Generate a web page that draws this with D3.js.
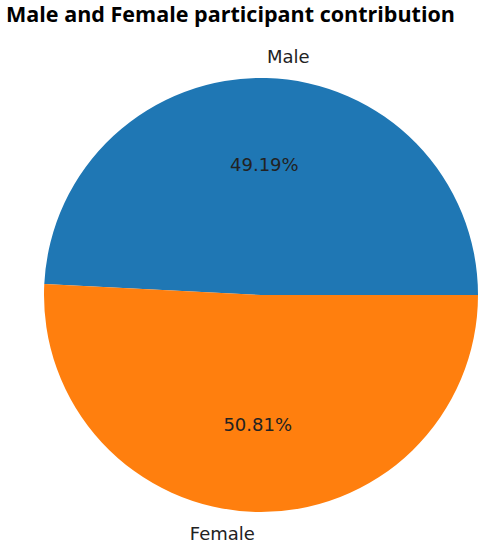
<!DOCTYPE html>
<html>
<head>
<meta charset="utf-8">
<script src="https://cdn.jsdelivr.net/npm/d3@7"></script>
<style>
  body { margin: 0; background: #fff; }
  svg { display: block; }
</style>
</head>
<body>
<svg></svg>
<script>
var labels = ['Male', 'Female'];
var values = [49.19, 50.81];
var colors = ['#1f77b4', '#ff7f0e'];

var width = 489, height = 550;
var cx = 261, cy = 295, r = 217;

var svg = d3.select('svg')
  .attr('width', width)
  .attr('height', height);

svg.append('text')
  .attr('x', 6)
  .attr('y', 22)
  .attr('font-family', 'Open Sans, sans-serif')
  .attr('font-weight', 'bold')
  .attr('font-size', 21)
  .attr('textLength', 449)
  .attr('lengthAdjust', 'spacingAndGlyphs')
  .attr('fill', '#000')
  .text('Male and Female participant contribution');

// matplotlib style: start at 3 o'clock, go counter-clockwise
var pie = d3.pie()
  .sort(null)
  .startAngle(Math.PI / 2)
  .endAngle(Math.PI / 2 - 2 * Math.PI);

var arcs = pie(values);
var arc = d3.arc().innerRadius(0).outerRadius(r);

var g = svg.append('g').attr('transform', 'translate(' + cx + ',' + cy + ')');

g.selectAll('path')
  .data(arcs)
  .enter().append('path')
  .attr('d', arc)
  .attr('fill', function(d, i) { return colors[i]; });

function midPos(d, k) {
  var a = (d.startAngle + d.endAngle) / 2;
  return [Math.sin(a) * r * k, -Math.cos(a) * r * k];
}

g.selectAll('text.lbl')
  .data(arcs)
  .enter().append('text')
  .attr('class', 'lbl')
  .attr('x', function(d) { return midPos(d, 1.1)[0]; })
  .attr('y', function(d) { return midPos(d, 1.1)[1]; })
  .attr('dy', '0.35em')
  .attr('text-anchor', function(d) { return midPos(d, 1.1)[0] >= 0 ? 'start' : 'end'; })
  .attr('font-family', 'DejaVu Sans, sans-serif')
  .attr('font-size', 18)
  .attr('fill', '#222')
  .text(function(d, i) { return labels[i]; });

g.selectAll('text.pct')
  .data(arcs)
  .enter().append('text')
  .attr('class', 'pct')
  .attr('x', function(d) { return midPos(d, 0.6)[0]; })
  .attr('y', function(d) { return midPos(d, 0.6)[1]; })
  .attr('dy', '0.35em')
  .attr('text-anchor', 'middle')
  .attr('font-family', 'DejaVu Sans, sans-serif')
  .attr('font-size', 18)
  .attr('fill', '#222')
  .text(function(d) { return d.data.toFixed(2) + '%'; });
</script>
</body>
</html>
